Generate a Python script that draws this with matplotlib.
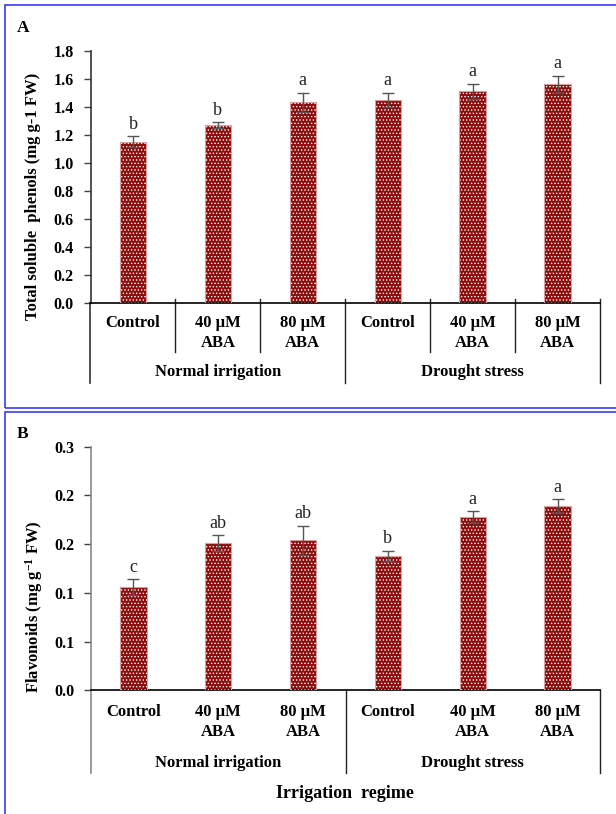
import matplotlib
matplotlib.use("Agg")
import matplotlib.pyplot as plt
from matplotlib.transforms import blended_transform_factory
from matplotlib.patches import Rectangle

plt.rcParams['font.family'] = ['Liberation Serif', 'DejaVu Serif']
plt.rcParams['mathtext.fontset'] = 'custom'
plt.rcParams['mathtext.rm'] = 'Liberation Serif:bold'
plt.rcParams['mathtext.bf'] = 'Liberation Serif:bold'
plt.rcParams['mathtext.it'] = 'Liberation Serif:bold'
plt.rcParams['hatch.linewidth'] = 0.6

# ---- data -------------------------------------------------------------
treatments = ["Control", "40 µM\nABA", "80 µM\nABA",
              "Control", "40 µM\nABA", "80 µM\nABA"]
regimes = ["Normal irrigation", "Drought stress"]

phenols = [1.15, 1.27, 1.43, 1.45, 1.51, 1.56]
phenols_se = [0.04, 0.02, 0.07, 0.05, 0.055, 0.06]
phenols_letters = ["b", "b", "a", "a", "a", "a"]
phenols_ticks = [0.0, 0.2, 0.4, 0.6, 0.8, 1.0, 1.2, 1.4, 1.6, 1.8]
phenols_ticklabels = ["0.0", "0.2", "0.4", "0.6", "0.8", "1.0",
                      "1.2", "1.4", "1.6", "1.8"]

flavonoids = [0.106, 0.151, 0.154, 0.138, 0.178, 0.189]
flavonoids_se = [0.008, 0.008, 0.015, 0.005, 0.006, 0.007]
flavonoids_letters = ["c", "ab", "ab", "b", "a", "a"]
flavonoids_ticks = [0.0, 0.05, 0.10, 0.15, 0.20, 0.25]
flavonoids_ticklabels = ["0.0", "0.1", "0.1", "0.2", "0.2", "0.3"]

# ---- layout helpers (figure pixels) ----------------------------------
W, H = 616, 814
fig = plt.figure(figsize=(W / 100, H / 100), dpi=100)


def fx(px):
    return px / W


def fy(py):
    return 1 - py / H


BAR_RED = "#8e0b0b"


def draw_panel(ax, values, errors, letters, ticks, ticklabels, ymax,
               yaxis_color, x_ticks):
    x = list(range(len(values)))
    ax.bar(x, values, width=0.31, color=BAR_RED, linewidth=0, zorder=2)
    ax.bar(x, values, width=0.31, facecolor="none", edgecolor="white",
           hatch=".....", linewidth=0, zorder=3)
    ax.bar(x, values, width=0.31, facecolor="none", edgecolor="#d8a0a0",
           linewidth=0.8, zorder=4)
    ax.errorbar(x, values, yerr=errors, fmt="none", ecolor="#555555",
                elinewidth=1.0, capsize=4, capthick=1.0, zorder=5)
    for xi, v, e, lab in zip(x, values, errors, letters):
        ax.annotate(lab, (xi, v + e), xytext=(0, 2.5), textcoords="offset points",
                    ha="center", va="bottom", fontsize=13, color="#222222")
    ax.set_xlim(-0.5, len(values) - 0.5)
    ax.set_ylim(0, ymax)
    ax.set_yticks(ticks)
    ax.set_yticklabels(ticklabels, fontsize=11.5, fontweight="bold")
    ax.tick_params(axis="y", length=5, width=1.0, color="#444444", pad=7)
    if x_ticks:
        ax.set_xticks(x)
        ax.tick_params(axis="x", direction="in", length=3, width=1.0,
                       color="#333333", labelbottom=False)
    else:
        ax.set_xticks([])
    for s in ("top", "right"):
        ax.spines[s].set_visible(False)
    ax.spines["left"].set_color(yaxis_color)
    ax.spines["left"].set_linewidth(1.2)
    ax.spines["bottom"].set_color("black")
    ax.spines["bottom"].set_linewidth(1.2)


def draw_categories(ax, axis_py, line1_py, line2_py, group_py, inner_bottom_py,
                    outer_bottom_py, inner_lines, yaxis_color):
    tr = blended_transform_factory(ax.transData, fig.transFigure)
    for xi, lab in enumerate(treatments):
        parts = lab.split("\n")
        ax.text(xi, fy(line1_py), parts[0], transform=tr, ha="center",
                va="center", fontsize=12, fontweight="bold")
        if len(parts) > 1:
            ax.text(xi, fy(line2_py), parts[1], transform=tr, ha="center",
                    va="center", fontsize=12, fontweight="bold")
    for gi, g in enumerate(regimes):
        ax.text(gi * 3 + 1, fy(group_py), g, transform=tr, ha="center",
                va="center", fontsize=12, fontweight="bold")
    if inner_lines:
        for b in (0.5, 1.5, 3.5, 4.5):
            ax.plot([b, b], [fy(axis_py - 4), fy(inner_bottom_py)],
                    transform=tr, color="#222222", lw=1.0, clip_on=False)
    ax.plot([-0.5, -0.5], [fy(axis_py), fy(outer_bottom_py)], transform=tr,
            color=yaxis_color, lw=1.2, clip_on=False)
    for b in (2.5, 5.5):
        ax.plot([b, b], [fy(axis_py - (4 if inner_lines else 0)),
                         fy(outer_bottom_py)],
                transform=tr, color="#222222", lw=1.0, clip_on=False)


# ---- panel A: total soluble phenols -----------------------------------
axA = fig.add_axes([fx(90.5), fy(302.7), (600 - 90.5) / W, (302.7 - 50.7) / H])
draw_panel(axA, phenols, phenols_se, phenols_letters, phenols_ticks,
           phenols_ticklabels, 1.8, "#333333", True)
draw_categories(axA, 302.7, 323, 343, 372, 352, 383, True, "#333333")
fig.text(fx(33), fy(196), "Total soluble  phenols (mg g-1 FW)", rotation=90,
         ha="center", va="center", fontsize=12, fontweight="bold")
fig.text(fx(17), fy(28), "A", ha="left", va="center", fontsize=12.5,
         fontweight="bold")

# ---- panel B: flavonoids ----------------------------------------------
axB = fig.add_axes([fx(91), fy(690.3), (600 - 91) / W, (690.3 - 446.7) / H])
draw_panel(axB, flavonoids, flavonoids_se, flavonoids_letters,
           flavonoids_ticks, flavonoids_ticklabels, 0.25, "#8a8a8a", False)
draw_categories(axB, 690.3, 711.7, 731.7, 763, 0, 773, False, "#8a8a8a")
fig.text(fx(34.5), fy(607), r"Flavonoids (mg g$^{-1}$ FW)", rotation=90,
         ha="center", va="center", fontsize=12, fontweight="bold")
fig.text(fx(17), fy(434), "B", ha="left", va="center", fontsize=12.5,
         fontweight="bold")
fig.text(fx(345), fy(793), "Irrigation  regime", ha="center", va="center",
         fontsize=13, fontweight="bold")

# ---- panel frames -----------------------------------------------------
fig.add_artist(Rectangle((fx(4.5), fy(408)), fx(640), (408 - 4.5) / H,
                         transform=fig.transFigure, fill=False,
                         edgecolor="#3a3aff", lw=1.2))
fig.add_artist(Rectangle((fx(4.5), fy(830)), fx(640), (830 - 412) / H,
                         transform=fig.transFigure, fill=False,
                         edgecolor="#3a3aff", lw=1.2))

fig.savefig("out.png", dpi=100, facecolor="white")
